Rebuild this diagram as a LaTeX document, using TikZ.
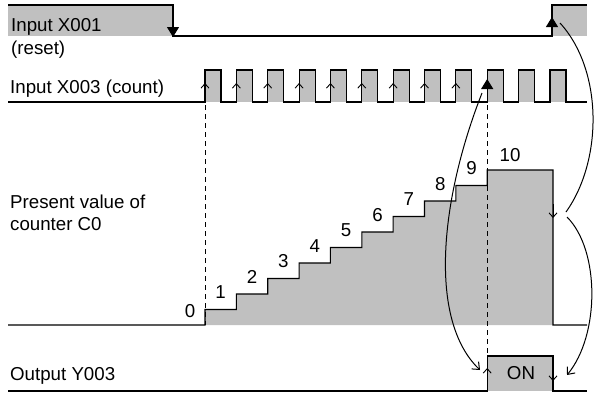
\documentclass[tikz,border=0pt]{standalone}
\usepackage{fontspec}
\setmainfont{Liberation Sans}
\usetikzlibrary{arrows.meta}
\definecolor{siggray}{RGB}{192,192,192}

\begin{document}
\begin{tikzpicture}[x=1pt, y=-1pt,
        wave/.style={line width=1.1pt},
        lbl/.style={anchor=base west, inner sep=0pt, font=\fontsize{18.7}{20}\selectfont},
        num/.style={inner sep=0pt, font=\fontsize{18.7}{20}\selectfont},
        edgemark/.style={line width=0.9pt, -{Straight Barb[length=4.5pt,width=8pt]}},
        trigger/.style={line width=1.1pt, -{Triangle[length=10pt,width=12pt]}},
        link/.style={line width=1pt, -{Straight Barb[length=6pt,width=10pt]}},
        guide/.style={line width=0.9pt, dash pattern=on 5pt off 4pt}]
    \useasboundingbox (0,0) rectangle (595,394);

    % Input X001 (reset)
    \fill[siggray] (8,5) rectangle (173,36);
    \fill[siggray] (552,5) rectangle (587,36);
    \draw[wave] (8,5) -- (173,5) -- (173,36) -- (552,36) -- (552,5) -- (587,5);
    \node[lbl] (xreset) at (11,31) {Input X001};
    \node[lbl] (xresetb) at (11,54) {(reset)};

    % Input X003 (count)
    \foreach \i in {0,...,11}
        \fill[siggray] ({205+31.36*\i},70) rectangle ++(16,32);
    \draw[wave] (8,102) -- (205,102)
        \foreach \i in {0,...,11} { -- ({205+31.36*\i},102) -- ++(0,-32) -- ++(16,0) -- ++(0,32) }
        -- (587,102);
    \node[lbl] (xcount) at (10,93) {Input X003 (count)};
    \foreach \i in {0,...,8}
        \draw[edgemark] ({205+31.36*\i},97) -- ({205+31.36*\i},83);

    % Present value of counter C0
    \fill[siggray] (205,325)
        \foreach \k in {1,...,9} { -- ({205+31.36*(\k-1)},{325-15.5*\k}) -- ({205+31.36*\k},{325-15.5*\k}) }
        -- (487.2,170) -- (553,170) -- (553,325) -- cycle;
    \draw[wave] (8,325) -- (205,325)
        \foreach \k in {1,...,9} { -- ({205+31.36*(\k-1)},{325-15.5*\k}) -- ({205+31.36*\k},{325-15.5*\k}) }
        -- (487.2,170) -- (553,170) -- (553,325) -- (587,325);
    \node[lbl] (cval) at (10,208) {Present value of};
    \node[lbl] (cvalb) at (10,230) {counter C0};
    \node[num] (v0) at (190,311) {0};
    \foreach \k in {1,...,9}
        \node[num] (v\k) at ({205+31.36*(\k-0.5)},{325-15.5*\k-17}) {\k};
    \node[num] (v10) at (510,155) {10};
    \draw[edgemark] (553,204) -- (553,218);

    % Output Y003
    \fill[siggray] (487.2,356) rectangle (553,391);
    \draw[wave] (8,391) -- (487.2,391) -- (487.2,356) -- (553,356) -- (553,391) -- (587,391);
    \node[lbl] (yout) at (10,380) {Output Y003};
    \node[num] (yon) at (521,373) {ON};
    \draw[edgemark] (487.2,382) -- (487.2,368);
    \draw[edgemark] (553,367) -- (553,381);

    % Dashed guides
    \draw[guide] (205,105) -- (205,325);
    \draw[guide] (487.2,105) -- (487.2,356);

    % Triggering edges
    \draw[trigger] (173,15) -- (173,37);
    \draw[trigger] (552,30) -- (552,17);
    \draw[trigger] (487.2,95) -- (487.2,79);

    % Cause and effect
    \coordinate (resetup) at (560,23);
    \coordinate (cdrop) at (566,212);
    \coordinate (cdropb) at (567,217);
    \coordinate (outoff) at (567,375);
    \coordinate (tenth) at (482,93);
    \coordinate (outon) at (480,370);
    \draw[line width=1pt] (resetup) .. controls (603,70) and (603,160) .. (cdrop);
    \draw[link] (cdropb) .. controls (600,250) and (600,335) .. (outoff);
    \draw[link] (tenth) .. controls (440,200) and (428,320) .. (outon);
\end{tikzpicture}
\end{document}
